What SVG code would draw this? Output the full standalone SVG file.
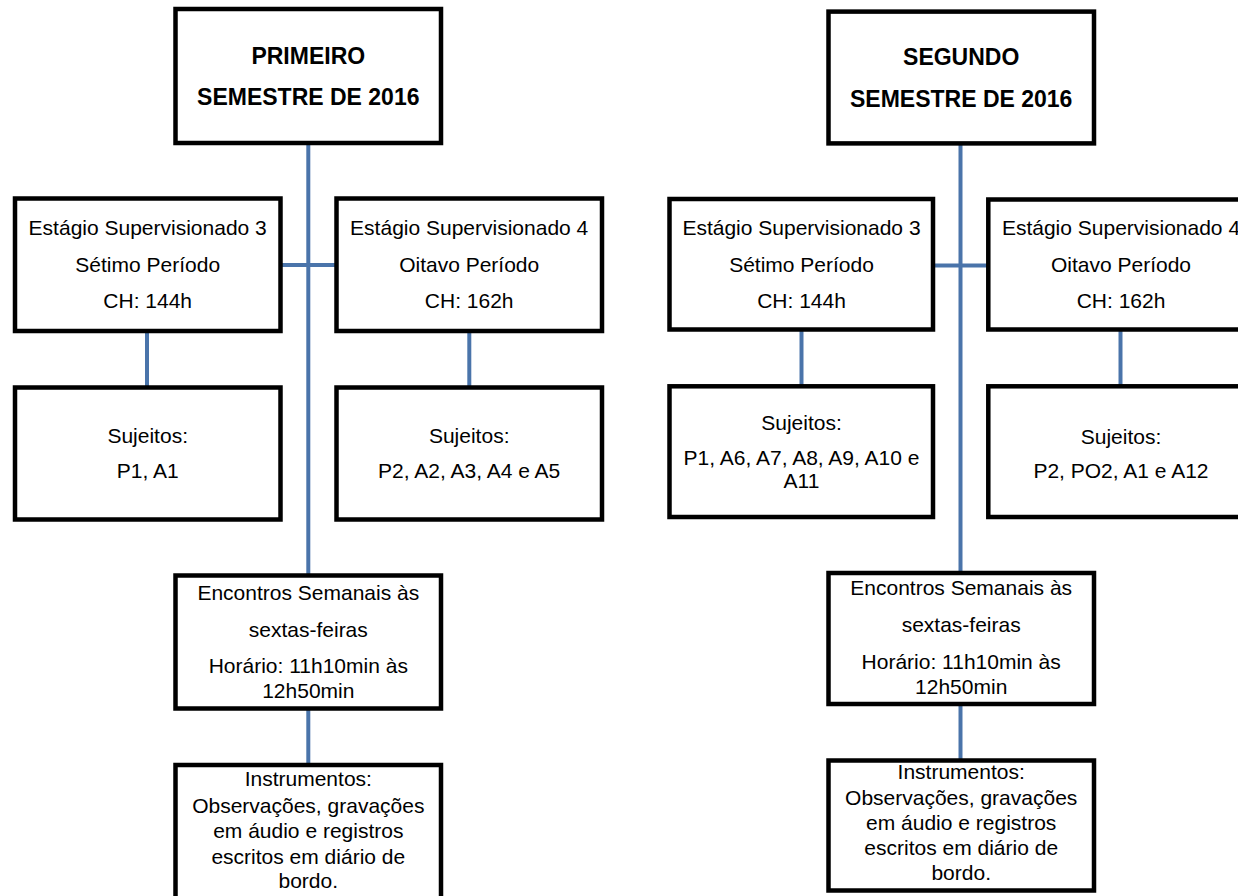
<svg xmlns="http://www.w3.org/2000/svg" width="1238" height="896" viewBox="0 0 1238 896">
<style>
.box{fill:#fff;stroke:#000;stroke-width:4.5}
.con{stroke:#4A74AA;stroke-width:4;fill:none}
.t{font-family:"Liberation Sans",Arial,sans-serif;font-size:21px;fill:#000;text-anchor:middle}
.b{font-family:"Liberation Sans",Arial,sans-serif;font-size:23px;font-weight:bold;fill:#000;text-anchor:middle}
</style>
<rect width="1238" height="896" fill="#fff"/>
<g id="connectors">
<line class="con" x1="308.3" y1="143" x2="308.3" y2="575"/>
<line class="con" x1="280" y1="265" x2="338" y2="265"/>
<line class="con" x1="147" y1="331" x2="147" y2="388"/>
<line class="con" x1="469.3" y1="331" x2="469.3" y2="388"/>
<line class="con" x1="308.3" y1="708" x2="308.3" y2="765"/>
<line class="con" x1="960.5" y1="143" x2="960.5" y2="573"/>
<line class="con" x1="933" y1="265.5" x2="988" y2="265.5"/>
<line class="con" x1="801.5" y1="329" x2="801.5" y2="386"/>
<line class="con" x1="1120.5" y1="329" x2="1120.5" y2="386"/>
<line class="con" x1="960.5" y1="704" x2="960.5" y2="760"/>
</g>
<g id="top-left">
<rect class="box" x="175.5" y="9" width="265.5" height="134"/>
<text class="b" x="308.3" y="64">PRIMEIRO</text>
<text class="b" x="308.3" y="105">SEMESTRE DE 2016</text>
</g>
<g id="est3-left">
<rect class="box" x="15" y="198.5" width="265.5" height="132.5"/>
<text class="t" x="147.7" y="235">Estágio Supervisionado 3</text>
<text class="t" x="147.7" y="271.7">Sétimo Período</text>
<text class="t" x="147.7" y="308.3">CH: 144h</text>
</g>
<g id="est4-left">
<rect class="box" x="336.5" y="198.5" width="265.5" height="132.5"/>
<text class="t" x="469.2" y="235">Estágio Supervisionado 4</text>
<text class="t" x="469.2" y="271.7">Oitavo Período</text>
<text class="t" x="469.2" y="308.3">CH: 162h</text>
</g>
<g id="suj3-left">
<rect class="box" x="15" y="387.5" width="265.5" height="132"/>
<text class="t" x="147.7" y="443.3">Sujeitos:</text>
<text class="t" x="147.7" y="478.3">P1, A1</text>
</g>
<g id="suj4-left">
<rect class="box" x="336.5" y="387.5" width="265.5" height="132"/>
<text class="t" x="469.2" y="443">Sujeitos:</text>
<text class="t" x="469.2" y="478">P2, A2, A3, A4 e A5</text>
</g>
<g id="encontros-left">
<rect class="box" x="175.5" y="575.5" width="265.5" height="133"/>
<text class="t" x="308.3" y="600">Encontros Semanais às</text>
<text class="t" x="308.3" y="636.7">sextas-feiras</text>
<text class="t" x="308.3" y="673.3">Horário: 11h10min às</text>
<text class="t" x="308.3" y="698.3">12h50min</text>
</g>
<g id="instrumentos-left">
<rect class="box" x="175.5" y="765" width="265.5" height="200"/>
<text class="t" x="308.3" y="786">Instrumentos:</text>
<text class="t" x="308.3" y="812.7">Observações, gravações</text>
<text class="t" x="308.3" y="837.7">em áudio e registros</text>
<text class="t" x="308.3" y="864">escritos em diário de</text>
<text class="t" x="308.3" y="888.3">bordo.</text>
</g>
<g id="top-right">
<rect class="box" x="828.5" y="11.6" width="265.5" height="131.8"/>
<text class="b" x="961.2" y="65">SEGUNDO</text>
<text class="b" x="961.2" y="106.5">SEMESTRE DE 2016</text>
</g>
<g id="est3-right">
<rect class="box" x="669.5" y="199" width="263.5" height="130.5"/>
<text class="t" x="801.5" y="235">Estágio Supervisionado 3</text>
<text class="t" x="801.5" y="271.7">Sétimo Período</text>
<text class="t" x="801.5" y="308.3">CH: 144h</text>
</g>
<g id="est4-right">
<rect class="box" x="988.3" y="199.5" width="265.5" height="130"/>
<text class="t" x="1121" y="235">Estágio Supervisionado 4</text>
<text class="t" x="1121" y="271.7">Oitavo Período</text>
<text class="t" x="1121" y="308.3">CH: 162h</text>
</g>
<g id="suj3-right">
<rect class="box" x="669.5" y="386.3" width="263.5" height="130.7"/>
<text class="t" x="801.5" y="430">Sujeitos:</text>
<text class="t" x="801.5" y="465">P1, A6, A7, A8, A9, A10 e</text>
<text class="t" x="801.5" y="488.3">A11</text>
</g>
<g id="suj4-right">
<rect class="box" x="988.3" y="386.3" width="265.5" height="130.7"/>
<text class="t" x="1121" y="443.5">Sujeitos:</text>
<text class="t" x="1121" y="478">P2, PO2, A1 e A12</text>
</g>
<g id="encontros-right">
<rect class="box" x="828.5" y="573" width="265.5" height="131"/>
<text class="t" x="961.2" y="595">Encontros Semanais às</text>
<text class="t" x="961.2" y="631.7">sextas-feiras</text>
<text class="t" x="961.2" y="669.3">Horário: 11h10min às</text>
<text class="t" x="961.2" y="694">12h50min</text>
</g>
<g id="instrumentos-right">
<rect class="box" x="828.5" y="760.5" width="265.5" height="130"/>
<text class="t" x="961.2" y="779.3">Instrumentos:</text>
<text class="t" x="961.2" y="805">Observações, gravações</text>
<text class="t" x="961.2" y="830">em áudio e registros</text>
<text class="t" x="961.2" y="855">escritos em diário de</text>
<text class="t" x="961.2" y="880">bordo.</text>
</g>
</svg>
